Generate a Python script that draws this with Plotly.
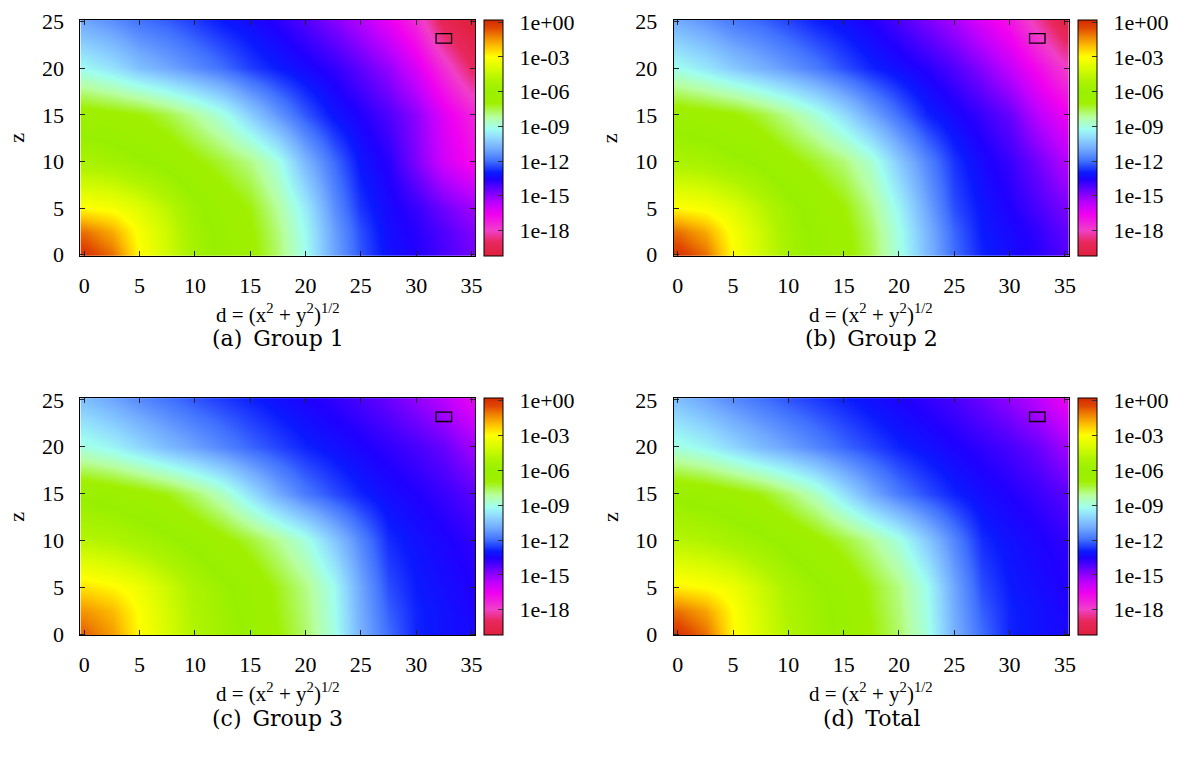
import plotly.graph_objects as go

# ---------------- data (log10 of the plotted quantity) ----------------
d_vals = [0, 2.5, 5, 7.5, 10, 12.5, 15, 17.5, 20, 22.5, 25, 27.5, 30, 32.5, 35]
z_vals = [0, 2.5, 5, 10, 15, 20, 25]

group1_log = [
    [-0.1, -1.0, -3.0, -4.2, -5.5, -6.2, -6.8, -7.8, -9.2, -11.0, -12.3, -13.2, -13.6, -14.1, -14.6],
    [-1.0, -1.8, -3.2, -4.3, -5.6, -6.3, -6.9, -7.9, -9.3, -11.1, -12.4, -13.3, -13.7, -14.2, -14.8],
    [-3.0, -3.2, -3.8, -4.7, -5.8, -6.5, -7.1, -8.2, -9.6, -11.4, -12.7, -13.4, -13.9, -14.6, -15.2],
    [-5.3, -5.5, -5.9, -6.3, -6.9, -7.4, -8.0, -9.0, -10.7, -12.0, -13.1, -13.7, -14.8, -16.0, -16.8],
    [-6.6, -6.8, -7.0, -7.5, -8.2, -9.0, -10.2, -11.3, -12.3, -13.1, -13.6, -14.2, -15.0, -16.3, -17.3],
    [-9.3, -9.8, -10.5, -11.0, -11.5, -12.0, -12.6, -13.0, -13.4, -13.8, -14.4, -15.1, -16.2, -17.6, -19.0],
    [-11.0, -11.4, -11.9, -12.2, -12.6, -13.0, -13.3, -13.7, -14.2, -14.8, -15.5, -16.4, -17.5, -19.3, -20.2],
]

group2_log = [
    [-0.1, -1.0, -3.0, -4.2, -5.4, -6.1, -6.7, -7.6, -9.0, -10.6, -12.0, -12.9, -13.3, -13.7, -14.2],
    [-1.0, -1.8, -3.2, -4.3, -5.5, -6.2, -6.8, -7.7, -9.1, -10.7, -12.1, -13.0, -13.4, -13.8, -14.4],
    [-3.0, -3.2, -3.8, -4.7, -5.7, -6.4, -7.0, -8.0, -9.4, -11.0, -12.4, -13.1, -13.6, -14.1, -14.7],
    [-5.2, -5.4, -5.8, -6.2, -6.8, -7.3, -7.9, -8.8, -10.3, -11.6, -12.7, -13.4, -13.9, -14.6, -15.5],
    [-6.5, -6.7, -6.9, -7.4, -8.1, -8.9, -9.9, -11.0, -12.0, -12.9, -13.4, -13.9, -14.5, -15.6, -16.5],
    [-9.2, -9.7, -10.3, -10.8, -11.3, -11.8, -12.4, -12.9, -13.3, -13.7, -14.2, -14.9, -15.8, -16.8, -17.9],
    [-10.9, -11.3, -11.8, -12.1, -12.5, -12.9, -13.2, -13.6, -14.1, -14.7, -15.3, -16.2, -17.0, -18.3, -19.7],
]

group3_log = [
    [-0.8, -1.6, -3.0, -4.0, -5.0, -5.6, -6.2, -7.0, -7.8, -9.0, -10.8, -12.0, -12.9, -13.2, -13.4],
    [-1.5, -2.0, -3.1, -4.1, -5.1, -5.7, -6.3, -7.1, -7.9, -9.1, -10.9, -12.2, -12.9, -13.2, -13.5],
    [-2.6, -2.9, -3.4, -4.3, -5.2, -5.8, -6.4, -7.2, -8.0, -9.2, -11.0, -12.4, -13.0, -13.3, -13.6],
    [-4.8, -5.0, -5.4, -5.8, -6.3, -6.8, -7.4, -8.1, -9.0, -10.3, -11.6, -12.8, -13.2, -13.5, -13.8],
    [-6.2, -6.4, -6.7, -7.1, -7.8, -8.6, -9.8, -10.9, -11.8, -12.4, -12.9, -13.3, -13.6, -13.9, -14.3],
    [-9.0, -9.4, -10.0, -10.6, -11.1, -11.6, -12.1, -12.5, -12.9, -13.2, -13.5, -13.8, -14.1, -14.5, -15.2],
    [-10.5, -11.0, -11.5, -11.9, -12.3, -12.6, -12.9, -13.2, -13.5, -13.8, -14.1, -14.5, -15.0, -15.6, -16.4],
]

total_log = [
    [-0.1, -1.0, -2.9, -4.0, -5.0, -5.6, -6.2, -7.0, -7.8, -9.0, -10.8, -12.0, -12.9, -13.2, -13.4],
    [-1.0, -1.7, -3.0, -4.1, -5.1, -5.7, -6.3, -7.1, -7.9, -9.1, -10.9, -12.2, -12.9, -13.2, -13.5],
    [-2.8, -3.0, -3.4, -4.3, -5.2, -5.8, -6.4, -7.2, -8.0, -9.2, -11.0, -12.4, -13.0, -13.3, -13.6],
    [-4.8, -5.0, -5.4, -5.8, -6.3, -6.8, -7.4, -8.1, -9.0, -10.3, -11.6, -12.8, -13.2, -13.5, -13.8],
    [-6.2, -6.4, -6.7, -7.1, -7.8, -8.6, -9.8, -10.9, -11.8, -12.4, -12.9, -13.3, -13.6, -13.9, -14.3],
    [-9.0, -9.4, -10.0, -10.6, -11.1, -11.6, -12.1, -12.5, -12.9, -13.2, -13.5, -13.8, -14.1, -14.5, -15.2],
    [-10.5, -11.0, -11.5, -11.9, -12.3, -12.6, -12.9, -13.2, -13.5, -13.8, -14.1, -14.5, -15.0, -15.6, -16.5],
]

cbar_tickvals = [0, -3, -6, -9, -12, -15, -18]
cbar_ticktext = ["1e+00", "1e-03", "1e-06", "1e-09", "1e-12", "1e-15", "1e-18"]
x_ticks = [0, 5, 10, 15, 20, 25, 30, 35]
y_ticks = [0, 5, 10, 15, 20, 25]
captions = ["(a)\u2002Group 1", "(b)\u2002Group 2", "(c)\u2002Group 3", "(d)\u2002Total"]
marker_box = [31.8, 33.2, 22.7, 23.7]   # d0, d1, z0, z1 of the small outlined box

# colour map (log10 value -> colour)
scale_vals = [-20.2, -19.0, -18.0, -16.6, -15.7, -15.0, -14.4, -13.6, -13.0, -12.0, -11.0,
              -10.0, -9.2, -8.2, -7.0, -6.0, -5.0, -4.0, -3.0, -2.2, -1.3, -0.5, 0.2]
scale_cols = ["#e0203c", "#e8285e", "#f040c8", "#f000f0", "#c000ff", "#9000ff", "#6000ff",
              "#2000ff", "#0a1aff", "#4070ff", "#70a8ff", "#90d8ff", "#a0fff0", "#b8ffa0",
              "#a0f000", "#98f000", "#b0f400", "#d8fc00", "#ffff00", "#ffc800", "#f08800",
              "#e04800", "#d42800"]

# ---------------- figure ----------------
W, H = 1181, 769
ZMIN, ZMAX = scale_vals[0], scale_vals[-1]
colorscale = [[(v - ZMIN) / (ZMAX - ZMIN), c] for v, c in zip(scale_vals, scale_cols)]

FONT = "Liberation Serif, Times New Roman, Times, serif"
CAPFONT = "DejaVu Serif, serif"
FS = 22
px = lambda p: p / W
py = lambda p: 1 - p / H

# frames in pixels: (left, right, top, bottom)
frames = [(79, 477, 10, 253), (677, 1075, 10, 253), (79, 477, 399, 643), (677, 1075, 399, 643)]
datasets = [group1_log, group2_log, group3_log, total_log]

fig = go.Figure()
layout = dict(width=W, height=H, margin=dict(l=0, r=0, t=0, b=0),
              paper_bgcolor="white", plot_bgcolor="white", showlegend=False,
              font=dict(family=FONT, size=FS, color="black"))
annotations = []
shapes = []

for i, (fr, data) in enumerate(zip(frames, datasets)):
    l, r, t, b = fr
    sfx = "" if i == 0 else str(i + 1)
    xa, ya = "x" + sfx, "y" + sfx
    fig.add_trace(go.Heatmap(
        x=d_vals, y=z_vals, z=data, zsmooth="best", zmin=ZMIN, zmax=ZMAX,
        colorscale=colorscale, xaxis=xa, yaxis=ya, hoverinfo="skip",
        colorbar=dict(x=px(r + 9), xanchor="left", y=(py(t) + py(b)) / 2, yanchor="middle",
                      len=(b - t) / H, lenmode="fraction", thickness=19, xpad=0, ypad=0,
                      outlinecolor="black", outlinewidth=1,
                      tickvals=cbar_tickvals,
                      ticktext=["\u2002" + s for s in cbar_ticktext],
                      ticks="inside", ticklen=5, tickwidth=1, tickcolor="#333",
                      tickfont=dict(family=FONT, size=FS, color="black")),
    ))
    axis_common = dict(showline=True, linecolor="black", linewidth=1.2, mirror="ticks",
                       ticks="inside", ticklen=5, tickwidth=1, tickcolor="#222",
                       showgrid=False, zeroline=False,
                       tickfont=dict(family=FONT, size=FS, color="black"))
    layout["xaxis" + sfx] = dict(axis_common, domain=[px(l), px(r)], range=[-0.35, 35.35],
                                 tickvals=x_ticks, anchor=ya, ticklabelstandoff=9)
    layout["yaxis" + sfx] = dict(axis_common, domain=[py(b), py(t)], range=[-0.15, 25.2],
                                 tickvals=y_ticks, anchor=xa, ticklabelstandoff=11)
    shapes.append(dict(type="rect", xref=xa, yref=ya, x0=marker_box[0], x1=marker_box[1],
                       y0=marker_box[2], y1=marker_box[3], line=dict(color="black", width=1.3),
                       fillcolor="rgba(0,0,0,0)"))
    cx = (l + r) / 2
    annotations.append(dict(text="z", x=px(l - 64), y=(py(t) + py(b)) / 2, xref="paper", yref="paper",
                            xanchor="center", yanchor="middle",
                            showarrow=False, textangle=-90, font=dict(family=FONT, size=FS)))
    annotations.append(dict(text="d = (x<sup>2</sup> + y<sup>2</sup>)<sup>1/2</sup>", x=px(cx),
                            y=py(b + 59), xref="paper", yref="paper", xanchor="center",
                            yanchor="middle", showarrow=False, font=dict(family=FONT, size=21)))
    annotations.append(dict(text=captions[i], x=px(cx), y=py(b + 85), xref="paper", yref="paper",
                            xanchor="center", yanchor="middle",
                            showarrow=False, font=dict(family=CAPFONT, size=22)))

layout["annotations"] = annotations
layout["shapes"] = shapes
fig.update_layout(**layout)
fig.write_html("out.html")
